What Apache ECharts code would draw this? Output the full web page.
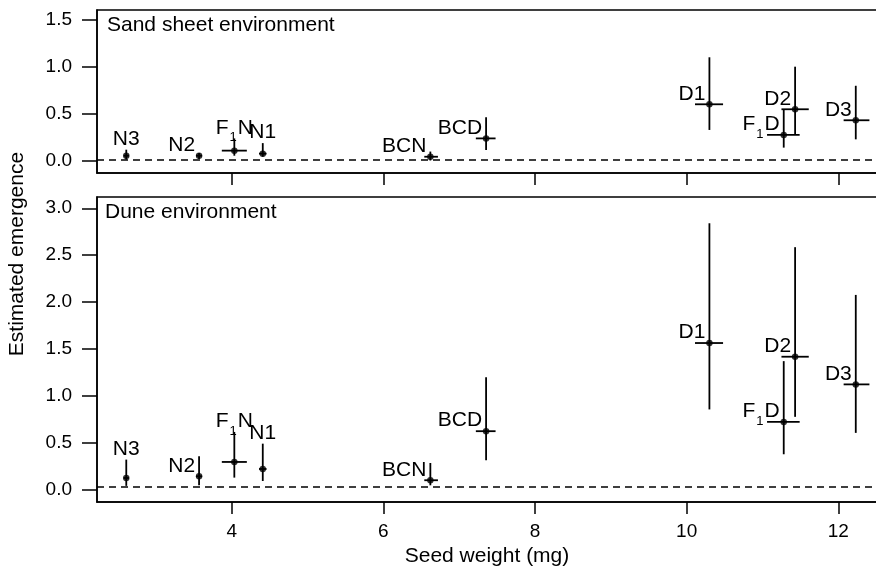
<!DOCTYPE html>
<html><head><meta charset="utf-8">
<script src="https://cdn.jsdelivr.net/npm/echarts@6/dist/echarts.min.js"></script>
<style>html,body{margin:0;padding:0;background:#fff}#c{width:876px;height:567px}</style>
</head><body><div id="c"></div><script>
// ---- data ----
const names = ['N3','N2','F₁N','N1','BCN','BCD','D1','D2','F₁D','D3'];
const seedWeight = [2.61, 3.57, 4.035, 4.41, 6.62, 7.355, 10.30, 11.43, 11.28, 12.23];
const seedLow    = [2.575, 3.53, 3.87, 4.36, 6.54, 7.22, 10.11, 11.25, 11.06, 12.07];
const seedHigh   = [2.645, 3.61, 4.20, 4.46, 6.72, 7.48, 10.48, 11.61, 11.49, 12.41];
const sandEst  = [0.056, 0.056, 0.11, 0.078, 0.045, 0.24, 0.603, 0.55, 0.277, 0.433];
const sandLow  = [0.015, 0.02, 0.056, 0.046, 0.005, 0.117, 0.33, 0.277, 0.142, 0.23];
const sandHigh = [0.12, 0.085, 0.24, 0.19, 0.10, 0.465, 1.103, 1.003, 0.543, 0.80];
const duneEst  = [0.124, 0.142, 0.295, 0.22, 0.10, 0.623, 1.563, 1.417, 0.722, 1.122];
const duneLow  = [0.04, 0.046, 0.128, 0.092, 0.046, 0.313, 0.855, 0.776, 0.377, 0.605];
const duneHigh = [0.32, 0.356, 0.615, 0.49, 0.284, 1.197, 2.84, 2.585, 1.37, 2.076];
const refLines = [0.005, 0.03];
const xTicks = [4, 6, 8, 10, 12];
const yTicksSand = [0, 0.5, 1.0, 1.5];
const yTicksDune = [0, 0.5, 1.0, 1.5, 2.0, 2.5, 3.0];
const panelTitles = ['Sand sheet environment', 'Dune environment'];
const xTitle = 'Seed weight (mg)';
const yTitle = 'Estimated emergence';

// ---- style ----
const labelSide = ['above','left','above','above','left','left','left','left','left','left'];
const FONT = "'Liberation Sans', Arial, Helvetica, sans-serif";
const BLACK = '#000';

function toRich(s) {
  return s.split(/(₁)/).filter(t => t.length).map(t => t === '₁' ? '{s|1}' : '{m|' + t + '}').join('');
}
const rich = {
  m: { fontSize: 21, lineHeight: 20, verticalAlign: 'top', fontFamily: FONT, fill: BLACK, color: BLACK },
  s: { fontSize: 13, lineHeight: 14, padding: [14, 1, 0, 1], verticalAlign: 'top', fontFamily: FONT, fill: BLACK, color: BLACK }
};

function renderBars(params, api) {
  const x = api.value(0), y = api.value(1);
  const p = api.coord([x, y]);
  const xl = api.coord([api.value(2), y]);
  const xh = api.coord([api.value(3), y]);
  const yl = api.coord([x, api.value(4)]);
  const yh = api.coord([x, api.value(5)]);
  const st = { stroke: BLACK, lineWidth: 1.8 };
  return { type: 'group', children: [
    { type: 'line', shape: { x1: xl[0], y1: p[1], x2: xh[0], y2: p[1] }, style: st },
    { type: 'line', shape: { x1: p[0], y1: yl[1], x2: p[0], y2: yh[1] }, style: st }
  ]};
}
function renderLabels(params, api) {
  const i = api.value(3);
  const p = api.coord([api.value(0), api.value(1)]);
  const u = api.coord([api.value(0), api.value(2)]);
  const above = labelSide[i] === 'above';
  return {
    type: 'text',
    x: above ? p[0] : p[0] - 4,
    y: above ? u[1] - 1 : p[1] - 21,
    style: {
      text: toRich(names[i]), rich: rich,
      align: above ? 'center' : 'right',
      verticalAlign: above ? 'bottom' : 'top',
      fill: BLACK, fontFamily: FONT, fontSize: 21
    }
  };
}

function panelSeries(k, est, low, high) {
  const bars = names.map((n, i) => [seedWeight[i], est[i], seedLow[i], seedHigh[i], low[i], high[i]]);
  const pts = names.map((n, i) => [seedWeight[i], est[i]]);
  const labs = names.map((n, i) => [seedWeight[i], est[i], high[i], i]);
  return [
    { type: 'custom', xAxisIndex: k, yAxisIndex: k, renderItem: renderBars, data: bars,
      encode: { x: [0, 2, 3], y: [1, 4, 5] }, silent: true, z: 3 },
    { type: 'scatter', xAxisIndex: k, yAxisIndex: k, data: pts, symbol: 'circle', symbolSize: 6.5,
      itemStyle: { color: BLACK }, silent: true, z: 4,
      markLine: { silent: true, symbol: 'none', label: { show: false },
        lineStyle: { color: BLACK, width: 1.5, type: [7, 5] },
        data: [{ yAxis: refLines[k] }] } },
    { type: 'custom', xAxisIndex: k, yAxisIndex: k, renderItem: renderLabels, data: labs,
      encode: { x: 0, y: 1 }, silent: true, z: 5, clip: false }
  ];
}

const axisLineStyle = { color: BLACK, width: 1.5 };
const labelStyle = { color: BLACK, fontSize: 19, fontFamily: FONT };
function xAxis(k) {
  return {
    type: 'value', gridIndex: k, min: 2.224, max: 12.51,
    axisLine: { show: true, onZero: false, lineStyle: axisLineStyle },
    axisTick: { show: true, inside: false, length: 12, customValues: xTicks, lineStyle: axisLineStyle },
    axisLabel: { show: k === 1, customValues: xTicks, margin: 20, ...labelStyle },
    splitLine: { show: false },
    name: k === 1 ? xTitle : '', nameLocation: 'middle', nameGap: 43,
    nameTextStyle: { color: BLACK, fontSize: 21, fontFamily: FONT }
  };
}
function yAxis(k, min, max, ticks) {
  return {
    type: 'value', gridIndex: k, min: min, max: max,
    axisLine: { show: true, onZero: false, lineStyle: axisLineStyle },
    axisTick: { show: true, inside: false, length: 15, customValues: ticks, lineStyle: axisLineStyle },
    axisLabel: { show: true, customValues: ticks, margin: 25, formatter: v => v.toFixed(1), ...labelStyle },
    splitLine: { show: false }
  };
}

const chart = echarts.init(document.getElementById('c'), null, { renderer: 'canvas' });
chart.setOption({
  backgroundColor: '#fff',
  animation: false,
  grid: [
    { left: 97, top: 10, width: 780, height: 163, show: true, borderColor: BLACK, borderWidth: 1.5, backgroundColor: 'transparent', outerBoundsMode: 'none', containLabel: false },
    { left: 97, top: 197, width: 780, height: 305, show: true, borderColor: BLACK, borderWidth: 1.5, backgroundColor: 'transparent', outerBoundsMode: 'none', containLabel: false }
  ],
  xAxis: [xAxis(0), xAxis(1)],
  yAxis: [yAxis(0, -0.128, 1.606, yTicksSand), yAxis(1, -0.132, 3.12, yTicksDune)],
  graphic: [
    { type: 'text', left: 107, top: 15, style: { text: panelTitles[0], fontSize: 21, fontFamily: FONT, fill: BLACK } },
    { type: 'text', left: 105, top: 202, style: { text: panelTitles[1], fontSize: 21, fontFamily: FONT, fill: BLACK } },
    { type: 'text', x: 17, y: 254, rotation: Math.PI / 2,
      style: { text: yTitle, fontSize: 21, fontFamily: FONT, fill: BLACK, align: 'center', verticalAlign: 'middle' } }
  ],
  series: [].concat(panelSeries(0, sandEst, sandLow, sandHigh), panelSeries(1, duneEst, duneLow, duneHigh))
});
</script></body></html>
